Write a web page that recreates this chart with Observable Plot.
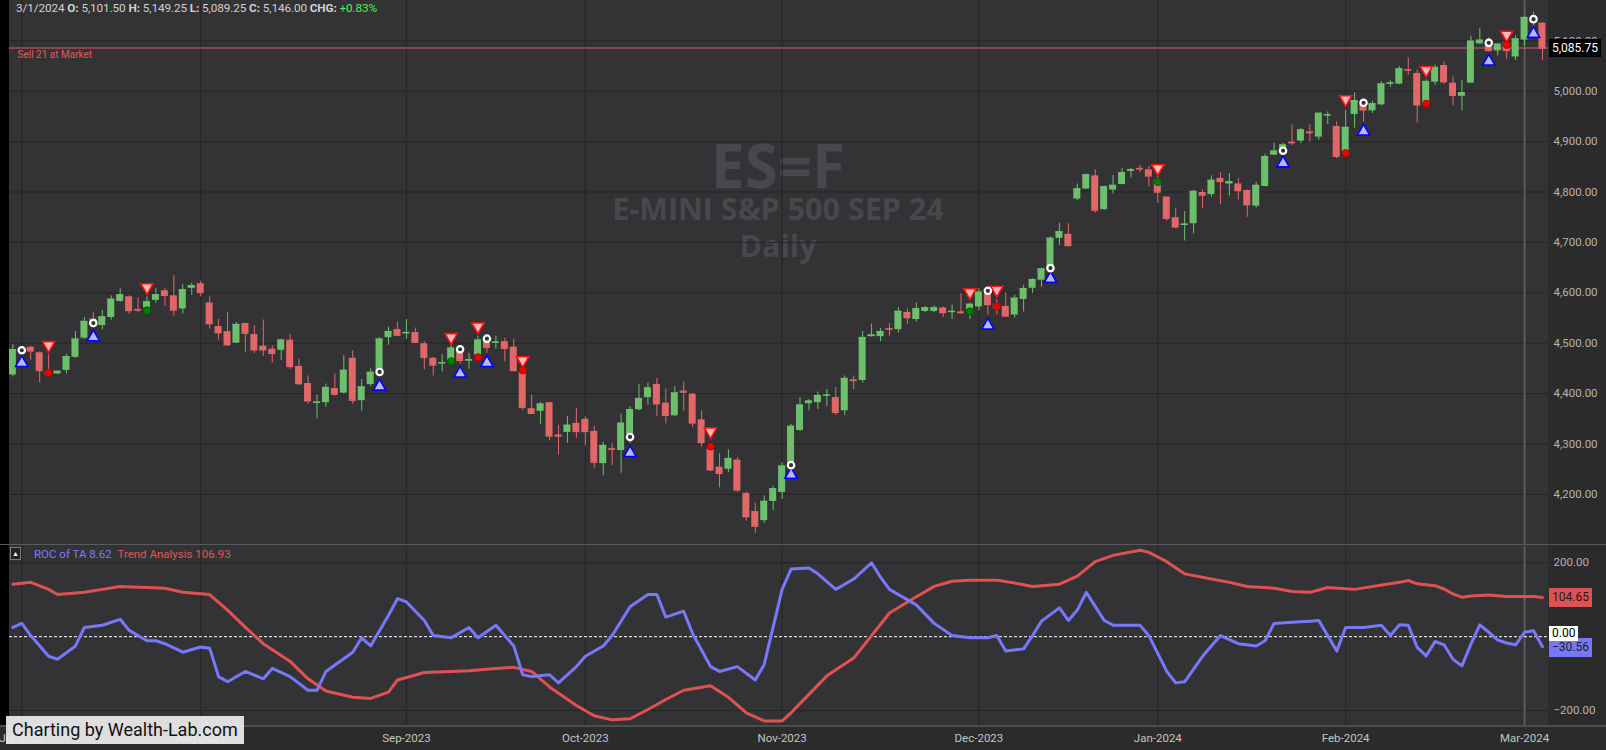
<!DOCTYPE html>
<html><head><meta charset="utf-8">
<script src="https://cdn.jsdelivr.net/npm/d3@7"></script>
<script src="https://cdn.jsdelivr.net/npm/@observablehq/plot@0.6"></script>
<style>
html,body{margin:0;padding:0;background:#2b2b2b;}
#wrap{position:relative;width:1606px;height:750px;overflow:hidden;background:#2b2b2b;font-family:Roboto,"Noto Sans",sans-serif;}
.abs{position:absolute;white-space:nowrap;}
</style></head><body><div id="wrap"></div>
<script>
// ---------- categories ----------
const firstDay = "2023-06-30", lastDay = "2024-03-05";
const closedDays = ["2023-07-04","2023-09-04","2023-12-25","2024-01-01","2024-01-15","2024-02-19"];
const priceTicks = [4200,4300,4400,4500,4600,4700,4800,4900,5000,5100];
const indTicks = [200,-200];

// ---------- OHLC (one per trading day) ----------
const opens = [4437,4484,4492,4481,4444,4439,4446,4472,4510,4548,4535,4551,4583,4592,4567,4570,4585,4604,4594,4568,4609,4618,4580,4533,4523,4500,4539,4517,4494,4488,4486,4506,4454,4420,4381,4382,4410,4401,4470,4386,4418,4443,4511,4527,4519,4521,4499,4470,4460,4466,4483,4465,4477,4504,4500,4503,4492,4443,4370,4365,4382,4318,4323,4341,4349,4325,4261,4291,4287,4318,4368,4392,4418,4381,4356,4405,4399,4348,4290,4254,4250,4268,4202,4166,4148,4186,4204,4259,4327,4380,4382,4396,4392,4366,4427,4426,4513,4513,4529,4527,4561,4547,4563,4563,4570,4562,4562,4566,4572,4599,4577,4573,4556,4587,4609,4625,4649,4708,4716,4786,4806,4832,4765,4804,4815,4841,4847,4844,4824,4790,4749,4734,4737,4799,4795,4827,4816,4816,4803,4772,4811,4873,4882,4899,4901,4919,4909,4952,4930,4881,4954,4973,4961,4973,5015,5014,5043,5035,4975,5018,5051,5016,4990,5016,5094,5092,5080,5097,5068,5101.5,5146,5135];
const highs = [4497,4492,4494,4483,4477,4445,4478,4523,4551,4561,4565,4594,4608,4594,4590,4592,4608,4609,4634,4616,4619,4623,4592,4547,4561,4541,4540,4535,4546,4495,4508,4517,4468,4435,4397,4419,4440,4475,4485,4428,4449,4511,4532,4542,4547,4530,4503,4472,4477,4497,4494,4480,4514,4509,4514,4510,4508,4446,4397,4382,4382,4337,4354,4371,4354,4335,4303,4301,4359,4374,4418,4421,4430,4409,4414,4423,4400,4366,4296,4281,4288,4273,4204,4183,4197,4216,4263,4339,4392,4388,4403,4408,4412,4435,4435,4523,4538,4529,4539,4571,4568,4580,4573,4574,4572,4576,4598,4580,4608,4604,4586,4600,4595,4615,4628,4649,4711,4738,4737,4816,4836,4844,4812,4833,4847,4847,4853,4851,4840,4790,4768,4761,4803,4804,4832,4838,4837,4827,4804,4819,4875,4897,4897,4933,4926,4934,4956,4959,4939,4963,4997,4980,4980,5019,5021,5049,5066,5042,5023,5052,5058,5028,5021,5109,5124,5106,5093,5106,5110,5149.25,5157,5136];
const lows = [4433,4478,4466,4421,4432,4438,4439,4470,4508,4530,4526,4546,4581,4557,4561,4561,4579,4573,4554,4558,4595,4592,4528,4506,4494,4499,4482,4479,4474,4461,4466,4448,4416,4379,4350,4373,4395,4399,4379,4365,4414,4441,4496,4513,4508,4499,4447,4435,4443,4463,4459,4448,4470,4480,4488,4463,4443,4367,4359,4339,4306,4278,4301,4311,4296,4252,4237,4257,4242,4301,4366,4377,4354,4340,4354,4365,4333,4294,4245,4213,4243,4204,4147,4123,4142,4168,4190,4255,4325,4366,4368,4374,4357,4356,4408,4421,4512,4503,4514,4520,4537,4542,4561,4561,4551,4547,4557,4547,4564,4556,4556,4551,4550,4562,4599,4611,4645,4694,4694,4783,4805,4758,4764,4796,4814,4828,4838,4810,4777,4742,4727,4703,4717,4768,4790,4775,4792,4784,4750,4768,4810,4873,4878,4892,4896,4899,4903,4934,4866,4868,4927,4939,4956,4971,5008,5013,5032,4937,4970,5012,5014,4971,4961,5016,5092,5078,5070,5063,5061,5089.25,5125,5061];
const closes = [4487,4488,4485,4446,4439,4444,4473,4508,4543,4538,4552,4587,4596,4565,4566,4582,4596,4595,4566,4606,4614,4601,4539,4521,4497,4537,4520,4487,4487,4480,4506,4454,4420,4386,4383,4412,4399,4446,4387,4413,4442,4508,4523,4516,4521,4502,4472,4457,4461,4490,4466,4467,4506,4492,4502,4490,4446,4373,4361,4379,4316,4316,4337,4325,4325,4264,4297,4290,4341,4368,4390,4411,4380,4357,4401,4403,4342,4303,4249,4242,4271,4209,4156,4137,4186,4211,4256,4335,4377,4385,4396,4397,4363,4430,4426,4511,4516,4523,4528,4563,4551,4568,4570,4570,4561,4563,4561,4577,4601,4577,4570,4554,4589,4608,4626,4647,4708,4721,4694,4806,4834,4764,4810,4813,4838,4844,4846,4832,4800,4748,4731,4736,4801,4794,4823,4821,4820,4803,4775,4813,4870,4881,4893,4898,4923,4918,4956,4953,4871,4928,4981,4963,4975,5014,5016,5044,5042,4973,5019,5047,5019,4992,4997,5099,5101,5081,5093,5081,5103.5,5146,5138,5085.75];

// ---------- signal markers (bar index, price) ----------
const buyIdx = [1,9,41,50,53,69,87,109,116,142,151,165,170];
const buyPrice = [4461,4512,4414,4440,4461,4282,4239,4535,4628,4857,4920,5059,5114];
const ringIdx = [1,9,41,50,53,69,87,109,116,142,151,165,170];
const ringPrice = [4486,4540,4443,4488,4509,4314,4258,4604,4649,4882,4977,5096,5143];
const sellIdx = [4,15,49,52,57,78,107,110,128,149,158,167];
const sellPrice = [4496,4611,4512,4533,4466,4325,4601,4606,4847,4984,5042,5112];
const redDotIdx = [4,52,57,78,110,149,158,167];
const redDotPrice = [4441,4472,4446,4295,4573,4877,4975,5092];
const greenDotIdx = [15,49,107,128];
const greenDotPrice = [4565,4464,4563,4820];

// ---------- indicator panel ----------
const trendIdx = [0,2,4,5,8,10,12,15,17,19,22,24,26,28,31,33,35,38,40,42,43,46,49,51,54,56,58,60,63,65,67,69,71,73,75,78,80,82,84,86,87,89,91,94,96,98,101,103,105,107,110,112,114,117,119,121,123,126,127,129,131,134,136,138,141,143,145,147,150,155,156,157,159,160,161,162,163,165,167,169,170,171];
const trendVal = [142,147,128,114,120,128,136,133,131,120,114,72,25,-19,-67,-114,-147,-164,-167,-150,-117,-97,-94,-92,-86,-83,-94,-136,-186,-214,-225,-222,-197,-170,-145,-133,-164,-206,-228,-228,-206,-156,-106,-58,3,64,108,136,150,153,153,145,136,142,164,203,220,234,228,203,170,156,147,136,131,122,120,133,128,147,152,143,138,129,116,107,110,113,109,109,109,106];
const rocIdx = [0,1,2,4,5,7,8,10,12,13,15,16,17,19,21,22,23,24,26,28,29,31,33,34,35,38,39,40,42,43,44,46,47,49,51,52,54,56,57,58,60,61,63,64,66,67,69,71,72,73,75,76,78,79,81,83,84,86,87,89,90,92,93,94,96,97,98,101,103,105,107,109,110,111,113,114,115,117,118,119,120,122,123,126,127,129,130,131,133,135,137,139,140,141,143,145,146,148,149,151,153,154,155,156,157,158,159,160,161,162,163,164,165,166,167,168,169,170,171];
const rocVal = [25,36,3,-53,-61,-25,25,31,47,17,-11,-11,-19,-42,-28,-31,-108,-122,-94,-114,-86,-108,-145,-145,-94,-42,-3,-25,58,103,94,44,3,-3,25,-3,31,-25,-103,-108,-103,-125,-81,-53,-25,3,81,114,114,53,69,8,-81,-94,-81,-117,-75,128,183,186,170,128,142,156,200,161,128,86,36,3,-3,-3,3,-39,-33,3,42,78,44,72,120,44,31,31,3,-94,-125,-122,-53,3,-19,-25,-11,36,39,42,44,-39,25,25,31,3,32,31,-29,-52,-13,-22,-61,-79,-20,32,12,-9,-17,-22,12,16,-27];
const lastTrend = 104.65, lastRoc = -30.56;

// ---------- build tables ----------
const dates = [];
for (let d = new Date(firstDay + "T00:00:00Z"); d <= new Date(lastDay + "T00:00:00Z"); d.setUTCDate(d.getUTCDate() + 1)) {
  const wd = d.getUTCDay(), s = d.toISOString().slice(0, 10);
  if (wd > 0 && wd < 6 && !closedDays.includes(s)) dates.push(s);
}
const bars = dates.map((date, i) => ({date, open: opens[i], high: highs[i], low: lows[i], close: closes[i]}));
const ups = bars.filter(b => b.close >= b.open), downs = bars.filter(b => b.close < b.open);
const monthStarts = dates.filter((d, i) => i === 0 ? false : d.slice(0, 7) !== dates[i - 1].slice(0, 7));
const pts = (idx, val) => idx.map((k, j) => ({date: dates[k], v: val[j]}));
const hoverBar = 169, lastBar = dates.length - 1;
const lastClose = closes[lastBar];

const GREEN = "#6cc06c", RED = "#e26868";
const fmt2 = d3.format(",.2f");
const xScale = {type: "band", domain: dates, range: [6.9, 1547.4], padding: 0.2174, round: false, axis: null};
const baseStyle = {background: "transparent", color: "#b4b4b4", fontFamily: "Roboto, sans-serif", fontSize: "11px", overflow: "visible"};

const wrap = document.getElementById("wrap");
function addDiv(css, html) {
  const d = document.createElement("div");
  d.className = "abs"; d.style.cssText = css;
  if (html != null) d.innerHTML = html;
  wrap.appendChild(d); return d;
}

// plot-area backgrounds
addDiv("left:9px;top:0;width:1539px;height:545px;background:#333336");
addDiv("left:9px;top:545px;width:1539px;height:181px;background:#333336");

// watermark
wrap.insertAdjacentHTML("beforeend",
 `<svg width="1606" height="545" style="position:absolute;left:0;top:0"><g font-family="'Open Sans',sans-serif" font-weight="700" fill="#47484b" text-anchor="middle">
  <text x="778" y="188" font-size="60">ES=F</text>
  <text x="778" y="220" font-size="30.5">E-MINI S&amp;P 500 SEP 24</text>
  <text x="778" y="257" font-size="30.5">Daily</text></g></svg>`);

// ---------- price panel ----------
const price = Plot.plot({
  width: 1606, height: 545,
  marginLeft: 9, marginRight: 58, marginTop: 0, marginBottom: 0,
  x: xScale,
  y: {domain: [4100, 5180], range: [544.3, 0], axis: null},
  style: baseStyle,
  marks: [
    Plot.ruleY(priceTicks, {stroke: "#252527", strokeWidth: 1}),
    Plot.ruleX(monthStarts, {stroke: "#252527", strokeWidth: 1}),
    Plot.ruleX([dates[hoverBar]], {stroke: "#5c5c5e", strokeWidth: 2}),
    Plot.ruleY([lastClose], {stroke: "#e25c5c", strokeWidth: 1}),
    Plot.text([lastClose], {y: d => d, text: () => "Sell 21 at Market", frameAnchor: "left", textAnchor: "start", dx: 8, dy: 7, fill: "#e25c5c", fontSize: 10}),
    Plot.ruleX(ups, {x: "date", y1: "low", y2: "high", stroke: GREEN}),
    Plot.ruleX(downs, {x: "date", y1: "low", y2: "high", stroke: RED}),
    Plot.barY(ups, {x: "date", y1: "open", y2: "close", fill: GREEN}),
    Plot.barY(downs, {x: "date", y1: "open", y2: "close", fill: RED}),
    Plot.tickY(ups, {x: "date", y: "close", stroke: GREEN, strokeWidth: 1.5}),
    Plot.tickY(downs, {x: "date", y: "close", stroke: RED, strokeWidth: 1.5}),
    Plot.dot(pts(sellIdx, sellPrice), {x: "date", y: "v", symbol: "triangle", rotate: 180, r: 4.6, fill: "#ffb6b6", stroke: "#ff1010", strokeWidth: 1.6}),
    Plot.dot(pts(buyIdx, buyPrice), {x: "date", y: "v", symbol: "triangle", r: 4.6, fill: "#b8b8ff", stroke: "#0000ff", strokeWidth: 1.6}),
    Plot.dot(pts(ringIdx, ringPrice), {x: "date", y: "v", r: 3.2, fill: "#333336", stroke: "#ffffff", strokeWidth: 2.2}),
    Plot.dot(pts(redDotIdx, redDotPrice), {x: "date", y: "v", r: 3.6, fill: "#ee0000", stroke: "#c00000", strokeWidth: 1}),
    Plot.dot(pts(greenDotIdx, greenDotPrice), {x: "date", y: "v", r: 3.6, fill: "#008000", stroke: "#005c00", strokeWidth: 1}),
    Plot.axisY({ticks: priceTicks, anchor: "right", tickSize: 0, tickPadding: 5, tickFormat: fmt2, fontSize: 11.5, label: null})
  ]
});
price.style.position = "absolute"; price.style.left = "0px"; price.style.top = "0px";
wrap.appendChild(price);

// ---------- indicator panel ----------
const ind = Plot.plot({
  width: 1606, height: 205,
  marginLeft: 9, marginRight: 58, marginTop: 1, marginBottom: 24,
  x: xScale,
  y: {domain: [-243, 244], axis: null},
  style: baseStyle,
  marks: [
    Plot.ruleY(indTicks, {stroke: "#252527"}),
    Plot.ruleX(monthStarts, {stroke: "#252527"}),
    Plot.ruleX([dates[hoverBar]], {stroke: "#5c5c5e", strokeWidth: 2}),
    Plot.ruleY([0], {stroke: "#ffffff", strokeDasharray: "3,2", strokeWidth: 1}),
    Plot.line(pts(trendIdx, trendVal), {x: "date", y: "v", stroke: "#e05252", strokeWidth: 3}),
    Plot.line(pts(rocIdx, rocVal), {x: "date", y: "v", stroke: "#7878ff", strokeWidth: 3}),
    Plot.axisY({ticks: indTicks, anchor: "right", tickSize: 0, tickPadding: 5, tickFormat: fmt2, fontSize: 11.5, label: null}),
    Plot.axisX({ticks: monthStarts, anchor: "bottom", tickSize: 0, tickPadding: 7, fontSize: 11.5, label: null,
      tickFormat: s => d3.utcFormat("%b-%Y")(new Date(s + "T00:00:00Z")), fill: "#c4c4c4"})
  ]
});
ind.style.position = "absolute"; ind.style.left = "0px"; ind.style.top = "545px";
wrap.appendChild(ind);

// ---------- chrome ----------
addDiv("left:0;top:0;width:9px;height:726px;background:#000");
addDiv("left:0;top:544px;width:1606px;height:1px;background:#5a5a5c");
addDiv("left:0;top:725px;width:1606px;height:2px;background:#4e4e50");

const pc = (closes[hoverBar] - closes[hoverBar - 1]) / closes[hoverBar - 1];
addDiv("left:16px;top:1px;font-size:11.75px;color:#d0d0d0;letter-spacing:-0.1px",
  `${d3.utcFormat("%-m/%-d/%Y")(new Date(dates[hoverBar] + "T00:00:00Z"))} <b>O:</b> ${fmt2(opens[hoverBar])} <b>H:</b> ${fmt2(highs[hoverBar])} <b>L:</b> ${fmt2(lows[hoverBar])} <b>C:</b> ${fmt2(closes[hoverBar])} <b>CHG:</b> <span style="color:#4cf04c">${d3.format("+.2%")(pc)}</span>`);

// legend of lower panel
addDiv("left:10px;top:547px;width:11px;height:13px;border:1px solid #7a7a7a;background:#222;box-sizing:border-box;color:#fff;font-size:7px;line-height:12px;text-align:center", "&#9650;");
addDiv("left:34px;top:547px;font-size:11.5px;line-height:14px",
  `<span style="color:#7b7bff">ROC of TA 8.62</span>&nbsp;&nbsp;<span style="color:#e25454">Trend Analysis 106.93</span>`);

// value boxes on the right axis
const py = price.scale("y").apply(lastClose);
addDiv(`left:1549px;top:${py - 9}px;height:18px;line-height:18px;padding:0 3px;background:#000;color:#fff;font-size:12px`, fmt2(lastClose));
const iy = v => 545 + ind.scale("y").apply(v);
addDiv(`left:1549px;top:${iy(lastTrend) - 9.5}px;height:19px;line-height:19px;padding:0 3px;background:#e05252;color:#1a1a1a;font-size:12px`, fmt2(lastTrend));
addDiv(`left:1549px;top:${iy(lastRoc) - 9.5}px;height:19px;line-height:19px;padding:0 3px;background:#7878ff;color:#1a1a1a;font-size:12px`, fmt2(lastRoc));
addDiv(`left:1549px;top:${iy(0) - 10}px;height:15px;line-height:15px;padding:0 3px;background:#fff;color:#000;font-size:12px`, fmt2(0));

// credit box
addDiv("left:6px;top:716px;width:238px;height:28px;line-height:28px;background:rgba(236,236,236,0.93);color:#111;font-size:18px;padding-left:6px;box-sizing:border-box", "Charting by Wealth-Lab.com");
</script></body></html>
